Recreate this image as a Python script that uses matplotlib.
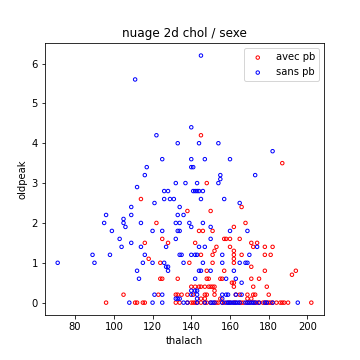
import matplotlib
matplotlib.use("Agg")
import matplotlib.pyplot as plt

# points "avec pb" (rouge) : thalach, oldpeak
thalach_avec = [
    145, 187, 148, 114, 166, 138, 150, 122, 168, 162,
    144, 146, 151, 125, 157, 158, 160, 165, 116, 128, 142, 171, 174,
    153, 160, 172, 178, 182, 152, 162,
    145, 151, 162, 166, 178, 181, 118, 162,
    124, 139, 151, 162, 171, 148, 157, 178, 194, 192,
    124, 125, 133, 148, 149, 155, 156, 171, 175, 161, 162,
    140, 142, 144, 145, 147, 149, 150, 151, 152, 162, 172, 179, 152,
    105, 123, 132, 133, 135, 138, 141, 147, 148, 152, 163, 165, 169, 172, 173, 180,
    145, 147, 155, 169, 171,
    96, 111, 112, 115, 116, 132, 134, 138, 140, 141, 142, 143, 145, 147, 148,
    150, 152, 153, 154, 156, 157, 159, 160, 162, 163, 165, 166, 167, 169, 170,
    172, 173, 174, 175, 177, 178, 179, 180, 181, 182, 184, 186, 187, 188, 190, 202,
]
oldpeak_avec = [
    4.2, 3.5, 3.0, 2.6, 2.4, 2.3, 2.3, 2.0, 2.0, 1.9,
    1.8, 1.8, 1.8, 1.6, 1.6, 1.6, 1.6, 1.6, 1.5, 1.5, 1.5, 1.5, 1.5,
    1.4, 1.4, 1.4, 1.4, 1.4, 1.3, 1.3,
    1.2, 1.2, 1.2, 1.2, 1.2, 1.2, 1.1, 1.1,
    1.0, 1.0, 1.0, 1.0, 0.9, 0.8, 0.8, 0.8, 0.8, 0.7,
    0.6, 0.6, 0.6, 0.6, 0.6, 0.6, 0.6, 0.6, 0.6, 0.5, 0.5,
    0.4, 0.4, 0.4, 0.4, 0.4, 0.4, 0.4, 0.4, 0.4, 0.4, 0.4, 0.4, 0.3,
    0.2, 0.2, 0.2, 0.2, 0.2, 0.2, 0.2, 0.2, 0.2, 0.2, 0.2, 0.2, 0.2, 0.2, 0.2, 0.2,
    0.1, 0.1, 0.1, 0.1, 0.1,
    0, 0, 0, 0, 0, 0, 0, 0, 0, 0, 0, 0, 0, 0, 0,
    0, 0, 0, 0, 0, 0, 0, 0, 0, 0, 0, 0, 0, 0, 0,
    0, 0, 0, 0, 0, 0, 0, 0, 0, 0, 0, 0, 0, 0, 0, 0,
]

# points "sans pb" (bleu)
thalach_sans = [
    145, 111, 140, 122, 133, 144, 154, 182, 125, 140, 147, 160,
    117, 140, 141, 116, 173, 155, 155,
    132, 137, 143, 154, 112, 126, 128, 141, 142, 143, 144, 146,
    126, 129, 131, 145, 157, 121, 165, 109, 134,
    96, 109, 133, 136, 105, 95, 105, 114, 132, 134, 139, 146,
    106, 140, 150, 99, 120, 125, 133, 134, 160, 169,
    103, 132, 150, 109, 104, 114, 127, 144, 147, 174,
    89, 98, 116, 134, 135, 140, 142, 143, 156, 170,
    71, 90, 115, 120, 126, 136, 146, 156, 165, 168, 169,
    127, 128, 112, 128, 144, 145, 150, 162,
    113, 142, 158, 163, 166, 140, 142, 143,
    121, 125, 140, 143, 156, 158, 159, 163, 166,
    132, 133, 134, 143, 156,
    108, 120, 125, 136, 138, 143, 147, 150, 151, 152, 156, 158, 159, 160, 161,
    162, 163, 164, 165, 168, 169, 170, 171, 172, 173, 175, 178, 179, 182, 195,
]
oldpeak_sans = [
    6.2, 5.6, 4.4, 4.2, 4.0, 4.0, 4.0, 3.8, 3.6, 3.6, 3.6, 3.6,
    3.4, 3.4, 3.4, 3.2, 3.2, 3.2, 3.1,
    3.0, 3.0, 3.0, 3.0, 2.9, 2.8, 2.8, 2.8, 2.8, 2.8, 2.8, 2.8,
    2.6, 2.6, 2.6, 2.6, 2.6, 2.5, 2.5, 2.4, 2.4,
    2.2, 2.2, 2.2, 2.2, 2.1, 2.0, 2.0, 2.0, 2.0, 2.0, 2.0, 2.0,
    1.9, 1.9, 1.9, 1.8, 1.8, 1.8, 1.8, 1.8, 1.8, 1.8,
    1.6, 1.6, 1.6, 1.5, 1.4, 1.4, 1.4, 1.4, 1.4, 1.4,
    1.2, 1.2, 1.2, 1.2, 1.2, 1.2, 1.2, 1.2, 1.2, 1.2,
    1.0, 1.0, 1.0, 1.0, 1.0, 1.0, 1.0, 1.0, 1.0, 1.0, 1.0,
    0.9, 0.9, 0.8, 0.8, 0.8, 0.8, 0.8, 0.8,
    0.6, 0.6, 0.6, 0.6, 0.5, 0.3, 0.3, 0.3,
    0.2, 0.2, 0.2, 0.2, 0.2, 0.2, 0.2, 0.2, 0.2,
    0.1, 0.1, 0.1, 0.1, 0.1,
    0, 0, 0, 0, 0, 0, 0, 0, 0, 0, 0, 0, 0, 0, 0,
    0, 0, 0, 0, 0, 0, 0, 0, 0, 0, 0, 0, 0, 0, 0,
]

fig = plt.figure(figsize=(5, 5), dpi=72)
plt.subplots_adjust(left=0.125, right=0.9, top=0.88, bottom=0.125)

plt.scatter(thalach_avec, oldpeak_avec, s=12, facecolors='none',
            edgecolors='red', linewidths=1, label='avec pb')
plt.scatter(thalach_sans, oldpeak_sans, s=12, facecolors='none',
            edgecolors='blue', linewidths=1, label='sans pb')

plt.title('nuage 2d chol / sexe')
plt.xlabel('thalach')
plt.ylabel('oldpeak')
plt.legend(loc='upper right')
plt.savefig('out.png', dpi=72)
